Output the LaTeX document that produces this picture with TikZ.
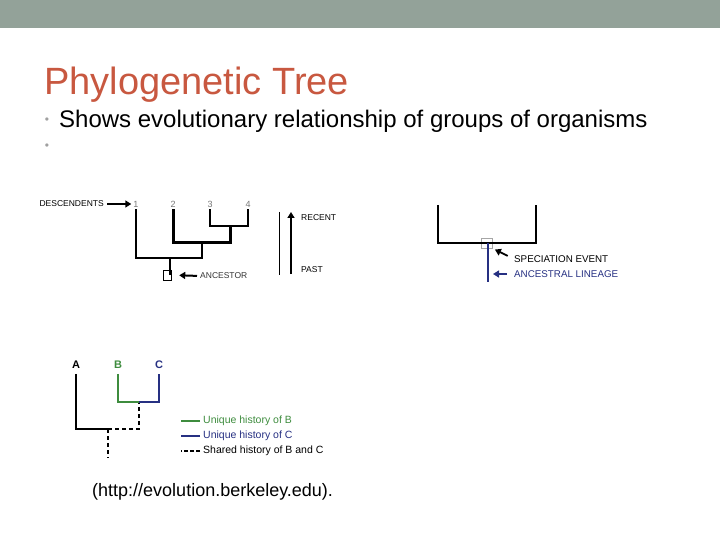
\documentclass[tikz,border=0pt]{standalone}
\usepackage{fontspec}
\setmainfont{Liberation Sans}
\usetikzlibrary{arrows.meta,positioning}

\definecolor{banner}{RGB}{147,162,153}
\definecolor{titlered}{RGB}{200,88,64}
\definecolor{dotgray}{RGB}{160,160,160}
\definecolor{tipgray}{RGB}{120,120,120}
\definecolor{bgreen}{RGB}{62,140,62}
\definecolor{cblue}{RGB}{38,48,130}

\tikzset{
  lbl/.style={anchor=west,inner sep=0pt,font=\fontsize{8.5}{10}\selectfont},
  biglbl/.style={lbl,font=\fontsize{9.8}{11}\selectfont},
  tiplbl/.style={inner sep=0pt,text=tipgray,font=\fontsize{9}{10}\selectfont},
  abc/.style={inner sep=0pt,font=\bfseries\fontsize{11}{13}\selectfont},
  leg/.style={anchor=west,inner sep=0pt,font=\fontsize{10.5}{12}\selectfont},
  branch/.style={line width=2pt},
  trunk/.style={line width=3pt},
  shared/.style={line width=2pt,dash pattern=on 4pt off 3pt},
  bigarrow/.style={line width=2pt,-{Triangle[length=6pt,width=7pt]}}
}

\begin{document}
\begin{tikzpicture}[x=1pt,y=-1pt,line join=miter]
  \useasboundingbox (0,0) rectangle (720,540);
  \fill[banner] (0,0) rectangle (720,28);

  % heading and bullets
  \node[anchor=base west,inner sep=0pt,text=titlered,font=\fontsize{38}{42}\selectfont]
    (title) at (44,95) {Phylogenetic Tree};
  \node[inner sep=0pt,text=dotgray,font=\fontsize{12}{14}\selectfont] (dot1) at (47,121) {•};
  \node[anchor=base west,inner sep=0pt,font=\fontsize{24}{28}\selectfont]
    (point1) at (59,128) {Shows evolutionary relationship of groups of organisms};
  \node[inner sep=0pt,text=dotgray,font=\fontsize{12}{14}\selectfont] (dot2) at (47,147) {•};

  % tree with descendents and ancestor
  \node[lbl,anchor=east] (desc) at (104,204) {DESCENDENTS};
  \node[tiplbl] (n1) at (136,204) {1};
  \node[tiplbl] (n2) at (173,204) {2};
  \node[tiplbl] (n3) at (210,204) {3};
  \node[tiplbl] (n4) at (248,204) {4};
  \coordinate (j34) at (230,226);
  \coordinate (j234) at (202,242);
  \coordinate (root) at (170,258);
  \node[draw,thin,minimum width=8pt,minimum height=10pt,inner sep=0pt] (anc) at (167,275) {};
  \node[lbl,text=black!80] (ancl) at (200,276) {ANCESTOR};
  \draw[branch] (n3.south) ++(0,2) |- (n4.south |- j34) -- ([yshift=-2pt]n4.south);
  \draw[trunk] (n2.south) ++(0,2) |- (j34 |- j234) -- (j34);
  \draw[branch] (n1.south) ++(0,2) |- (j234 |- root) -- (j234);
  \draw[line width=1.5pt] (root) -- (root |- anc.center);
  \draw[bigarrow,shorten <=3pt,shorten >=2pt] (desc.east) -- (n1.west);
  \draw[bigarrow,shorten <=3pt,shorten >=8pt] (ancl.west) -- (anc.east);

  % time axis
  \draw[thin] (279,212) -- (279,275);
  \coordinate (tpast) at (291,274);
  \coordinate (trecent) at (291,212);
  \draw[bigarrow] (tpast) -- (trecent);
  \node[lbl] (recent) at (301,218) {RECENT};
  \node[lbl] (past) at (301,270) {PAST};

  % speciation event
  \coordinate (cl) at (438,205);
  \coordinate (cr) at (536,205);
  \node[draw=gray!70,thin,minimum width=11pt,minimum height=10pt,inner sep=0pt] (spec) at (486.5,243) {};
  \draw[branch] (cl) |- (cr |- spec) -- (cr);
  \draw[branch,cblue] (488,243) coordinate (lin0) -- (488,282) coordinate (lin1);
  \node[biglbl] (spect) at (514,259) {SPECIATION EVENT};
  \node[biglbl,text=cblue] (lint) at (514,274) {ANCESTRAL LINEAGE};
  \draw[bigarrow,line width=1.8pt,shorten <=7pt,shorten >=3pt] (spect.west) -- (spec.south east);
  \draw[bigarrow,cblue,shorten <=7pt,shorten >=5pt] (lint.west) -- (lint.west -| lin0);

  % shared and unique histories
  \node[abc] (A) at (76,365) {A};
  \node[abc,text=bgreen] (B) at (118,365) {B};
  \node[abc,text=cblue] (C) at (159,365) {C};
  \coordinate (jbc) at (139,402);
  \coordinate (jabc) at (108,429);
  \coordinate (base) at (108,458);
  \draw[branch] ([yshift=-5pt]A.south) |- (jabc);
  \draw[shared] (jabc) -| (jbc);
  \draw[shared] (jabc) -- (base);
  \draw[branch,bgreen] ([yshift=-5pt]B.south) |- (jbc);
  \draw[branch,cblue] ([yshift=-5pt]C.south) |- (jbc);

  % legend
  \node[leg,text=bgreen] (kb) at (203,421) {Unique history of B};
  \node[leg,text=cblue] (kc) at (203,436) {Unique history of C};
  \node[leg] (ks) at (203,451) {Shared history of B and C};
  \draw[branch,bgreen] ([xshift=-3pt]kb.west) -- ++(-19,0);
  \draw[branch,cblue] ([xshift=-3pt]kc.west) -- ++(-19,0);
  \draw[shared,dash pattern=on 4pt off 2pt] ([xshift=-3pt]ks.west) -- ++(-19,0);

  \node[anchor=west,inner sep=0pt,font=\fontsize{18}{20}\selectfont] (src) at (92,492)
    {(http://evolution.berkeley.edu).};
\end{tikzpicture}
\end{document}
